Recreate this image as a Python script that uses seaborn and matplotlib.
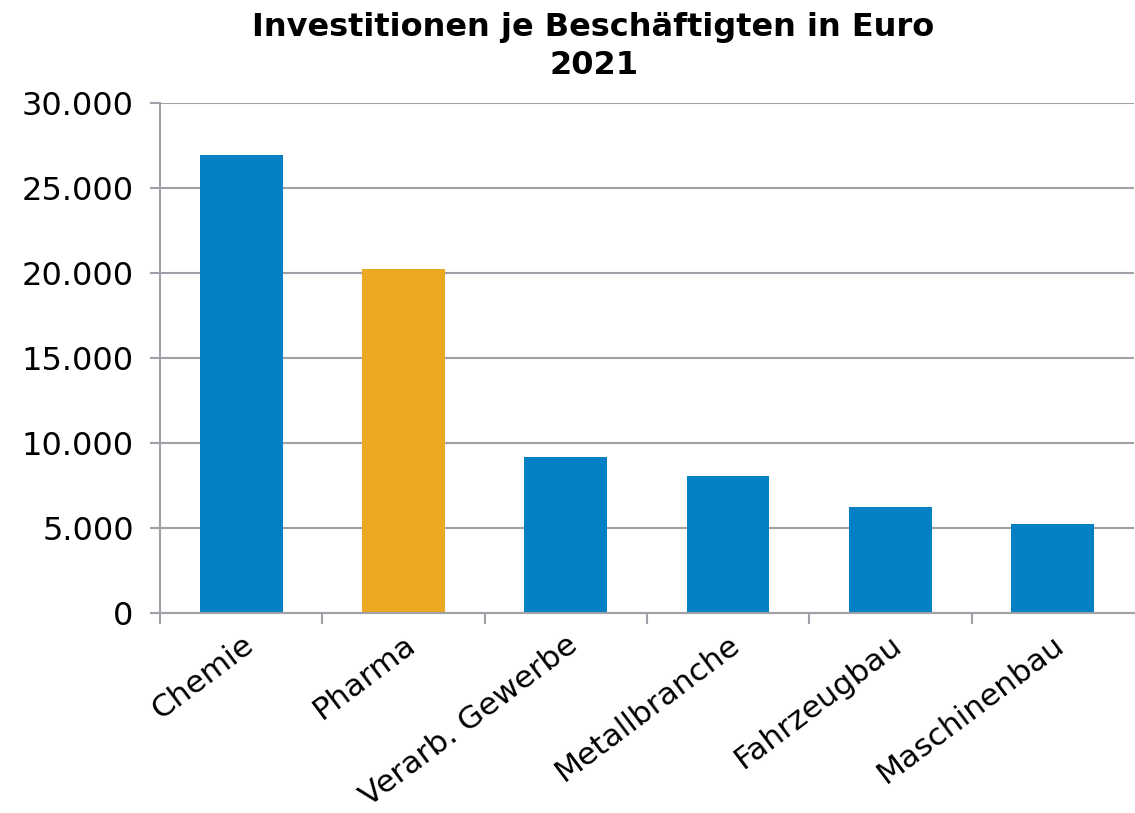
import numpy as np
import pandas as pd
import seaborn as sns
import matplotlib.pyplot as plt
from matplotlib.ticker import FuncFormatter, FixedLocator

# Daten
branchen = ["Chemie", "Pharma", "Verarb. Gewerbe", "Metallbranche", "Fahrzeugbau", "Maschinenbau"]
investitionen = [26950, 20250, 9200, 8050, 6250, 5250]
farben = ["#0580C4", "#EDA822", "#0580C4", "#0580C4", "#0580C4", "#0580C4"]
y_ticks = [0, 5000, 10000, 15000, 20000, 25000, 30000]

df = pd.DataFrame({"Branche": branchen, "Wert": investitionen})

sns.set_theme(style="white")
plt.rcParams["font.family"] = ["DejaVu Sans"]
plt.rcParams["text.color"] = "black"
plt.rcParams["xtick.color"] = "black"
plt.rcParams["ytick.color"] = "black"

fig = plt.figure(figsize=(11.35, 8.13), dpi=100)
ax = fig.add_axes([0.141, 0.246, 0.858, 0.627])

sns.barplot(data=df, x="Branche", y="Wert", hue="Branche", palette=farben,
            legend=False, width=0.51, saturation=1, linewidth=0, ax=ax)

grau = "#A0A0A8"
ax.set_ylim(0, 30000)
ax.set_yticks(y_ticks)
ax.yaxis.set_major_formatter(FuncFormatter(lambda v, p: f"{int(v):,}".replace(",", ".")))
ax.grid(axis="y", color=grau, linewidth=1.5)
ax.set_axisbelow(True)

for s in ["top", "right"]:
    ax.spines[s].set_visible(False)
for s in ["left", "bottom"]:
    ax.spines[s].set_color(grau)
    ax.spines[s].set_linewidth(1.5)

ax.set_xlim(-0.5, len(branchen) - 0.5)
ax.xaxis.set_minor_locator(FixedLocator(np.arange(len(branchen)) - 0.5))
ax.tick_params(axis="x", which="major", length=0, pad=12, labelcolor="black")
ax.tick_params(axis="x", which="minor", length=8, width=1.5, color=grau, direction="out", bottom=True)
ax.tick_params(axis="y", length=7, width=1.5, color=grau, direction="out", left=True,
               labelsize=23, pad=12, labelcolor="black")

ax.set_xticks(range(len(branchen)))
ax.set_xticklabels(branchen, rotation=37, ha="right", rotation_mode="anchor", fontsize=22.5)

ax.set_xlabel("")
ax.set_ylabel("")
fig.suptitle("Investitionen je Beschäftigten in Euro\n2021", fontsize=23, fontweight="bold",
             x=0.523, y=0.985, va="top", linespacing=1.3)

fig.savefig("out.png", dpi=100)
